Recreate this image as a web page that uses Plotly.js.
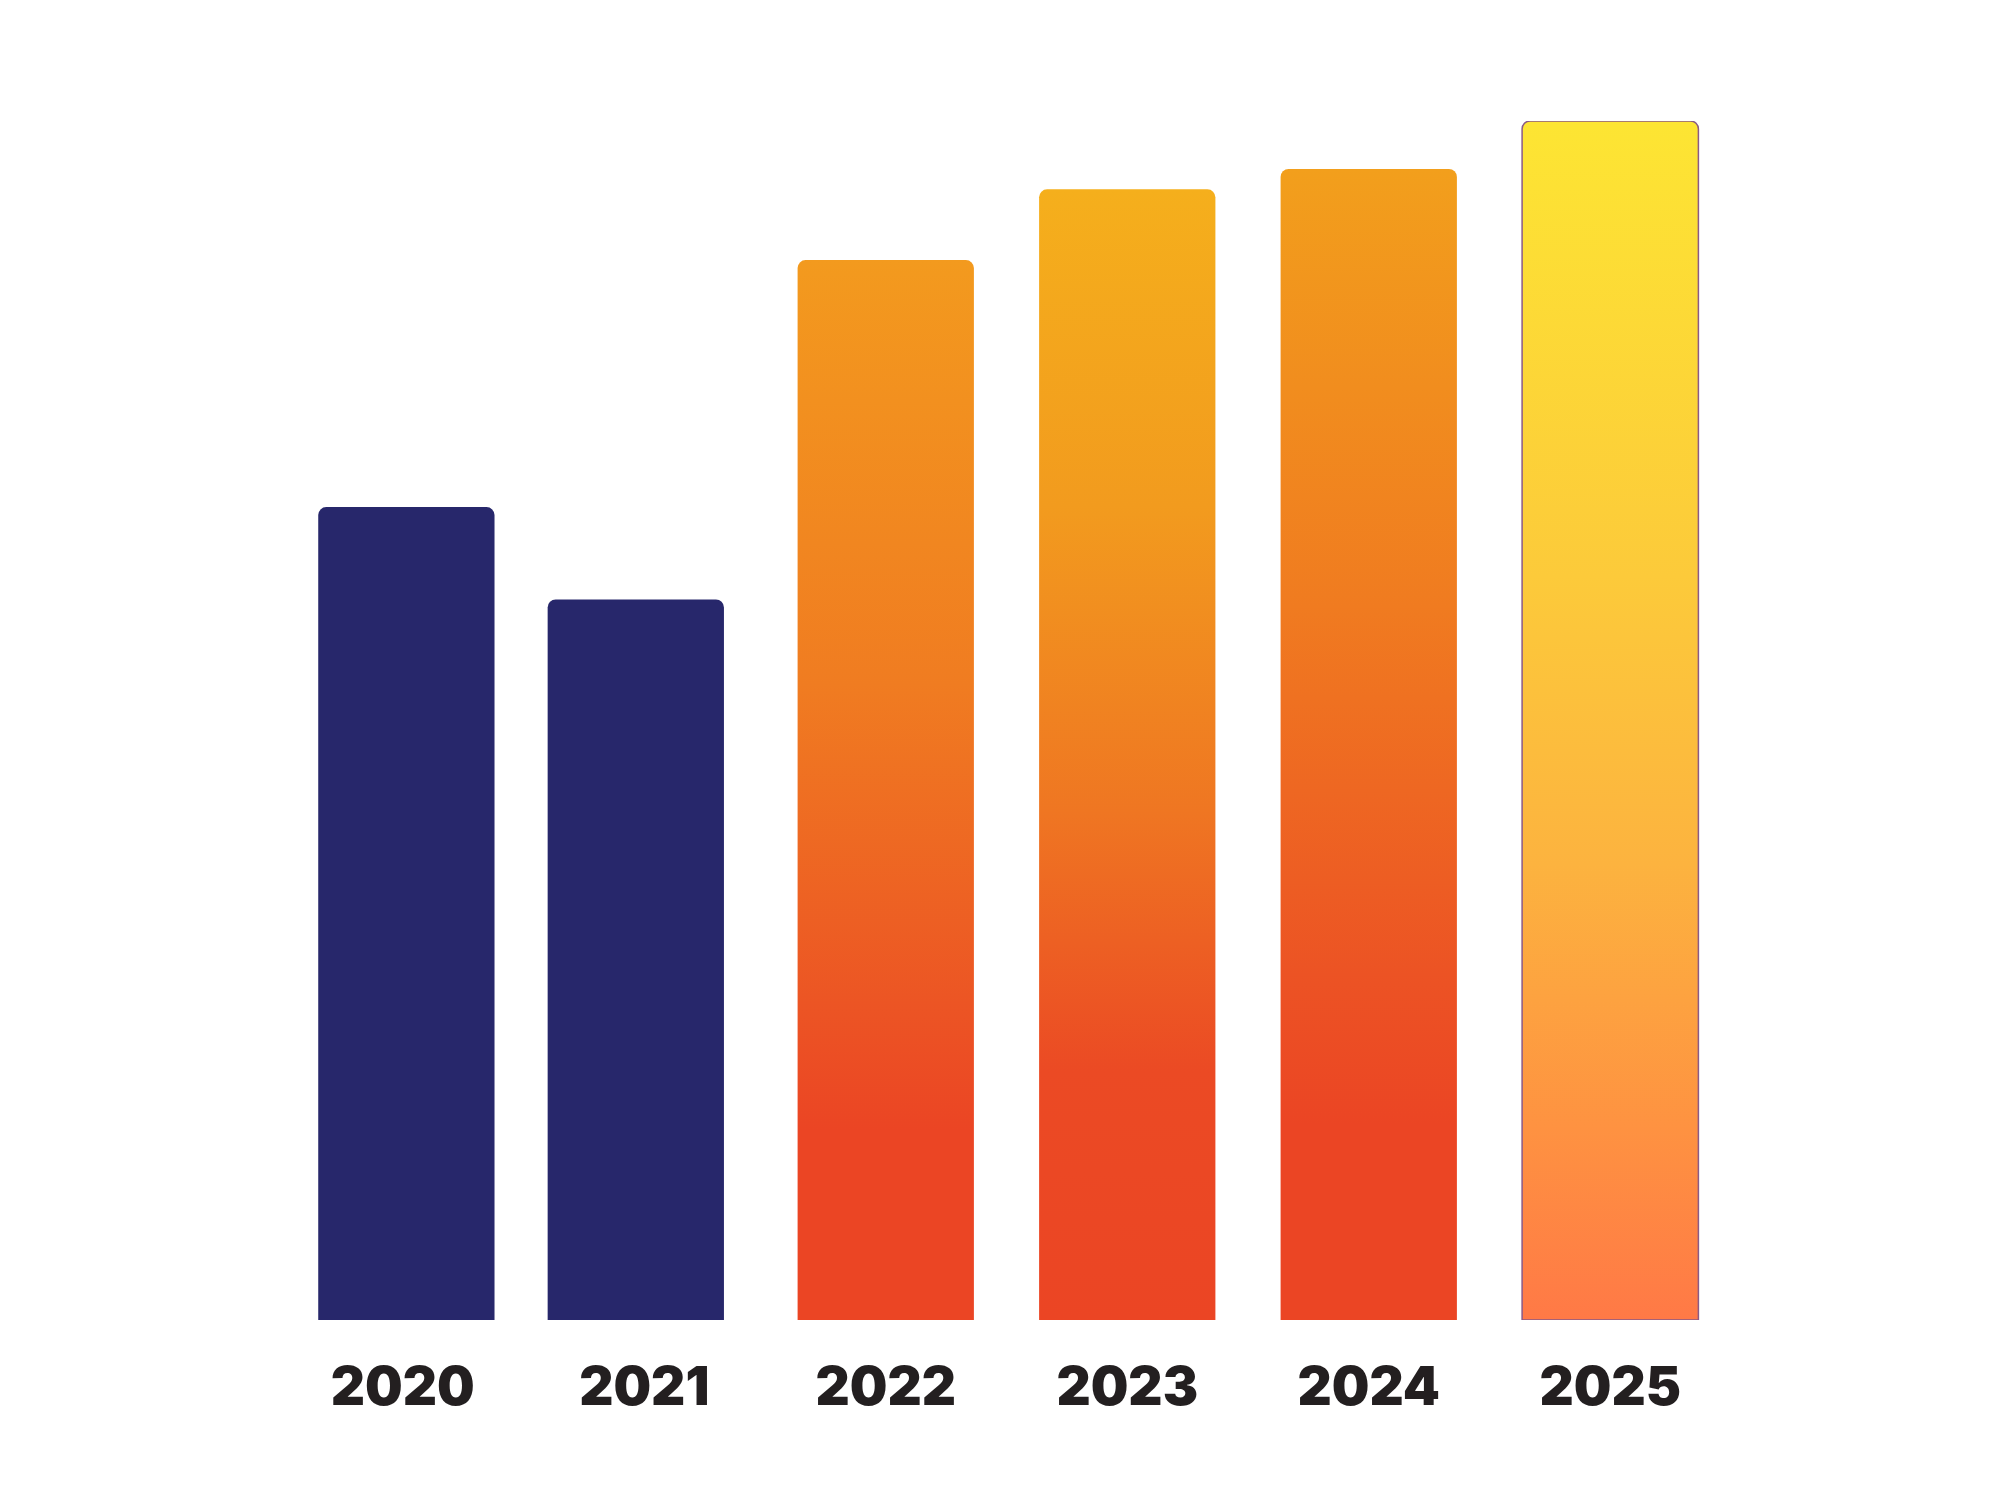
<!DOCTYPE html>
<html>
<head>
<meta charset="utf-8">
<script src="https://cdn.plot.ly/plotly-3.0.1.min.js"></script>
<style>
  html, body { margin: 0; padding: 0; background: #ffffff; }
  #chart { width: 2000px; height: 1500px; }
</style>
</head>
<body>
<div id="chart"></div>
<script>
var years = ['2020', '2021', '2022', '2023', '2024', '2025'];

var values = [67.8, 60.1, 88.4, 94.3, 96.0, 100];

// gradient stops for each bar, top to bottom
var barFills = [
  [['0%', '#27276B'], ['100%', '#27276B']],
  [['0%', '#27276B'], ['100%', '#27276B']],
  [['0%', '#F39A1E'], ['40%', '#F07C21'], ['70%', '#EC5524'], ['82%', '#EB4524'], ['100%', '#EB4524']],
  [['0%', '#F5AF1C'], ['28%', '#F29B1E'], ['55%', '#EF7622'], ['78%', '#EB4A24'], ['100%', '#EB4524']],
  [['0%', '#F29F1C'], ['38%', '#F07B20'], ['70%', '#EC5324'], ['83%', '#EB4524'], ['100%', '#EB4524']],
  [['0%', '#FDE533'], ['38%', '#FCCA3A'], ['62%', '#FCB33F'], ['84%', '#FE9241'], ['100%', '#FF7946']]
];

var trace1 = {
  x: years,
  y: values,
  type: 'bar',
  width: 0.73,
  // first two bars sit a little closer together in the original
  offset: [-0.35, -0.40, -0.365, -0.365, -0.365, -0.365],
  hoverinfo: 'x+y',
  marker: {
    color: ['#27276B', '#27276B', '#F07C21', '#F07C21', '#F07C21', '#FCC83A'],
    cornerradius: 8,
    line: {
      color: ['#27276B', '#27276B', '#F07C21', '#F07C21', '#F07C21', '#8A5A86'],
      width: [0, 0, 0, 0, 0, 1.5]
    }
  }
};

var data = [trace1];

var layout = {
  width: 2000,
  height: 1500,
  margin: { l: 282, r: 269, t: 121, b: 180 },
  paper_bgcolor: '#ffffff',
  plot_bgcolor: '#ffffff',
  showlegend: false,
  xaxis: {
    type: 'category',
    showgrid: false,
    zeroline: false,
    showline: false,
    ticks: '',
    ticklabelstandoff: 31,
    tickfont: { family: 'Inter, "Liberation Sans", Arial, sans-serif', size: 53, color: '#231F20', weight: 900 }
  },
  yaxis: {
    range: [0, 100],
    visible: false,
    showgrid: false,
    zeroline: false
  }
};

var config = {
  staticPlot: true
}

Plotly.newPlot('chart', data, layout, config).then(function (gd) {
  var ns = 'http://www.w3.org/2000/svg';
  var defs = gd.querySelector('svg.main-svg defs');
  barFills.forEach(function (stops, i) {
    var grad = document.createElementNS(ns, 'linearGradient');
    grad.setAttribute('id', 'barfill' + i);
    grad.setAttribute('x1', '0');
    grad.setAttribute('y1', '0');
    grad.setAttribute('x2', '0');
    grad.setAttribute('y2', '1');
    stops.forEach(function (s) {
      var stop = document.createElementNS(ns, 'stop');
      stop.setAttribute('offset', s[0]);
      stop.setAttribute('stop-color', s[1]);
      grad.appendChild(stop);
    });
    defs.appendChild(grad);
  });
  var paths = gd.querySelectorAll('g.trace.bars g.point path');
  paths.forEach(function (p, i) {
    p.style.fill = 'url(#barfill' + i + ')';
  });
});
</script>
</body>
</html>
